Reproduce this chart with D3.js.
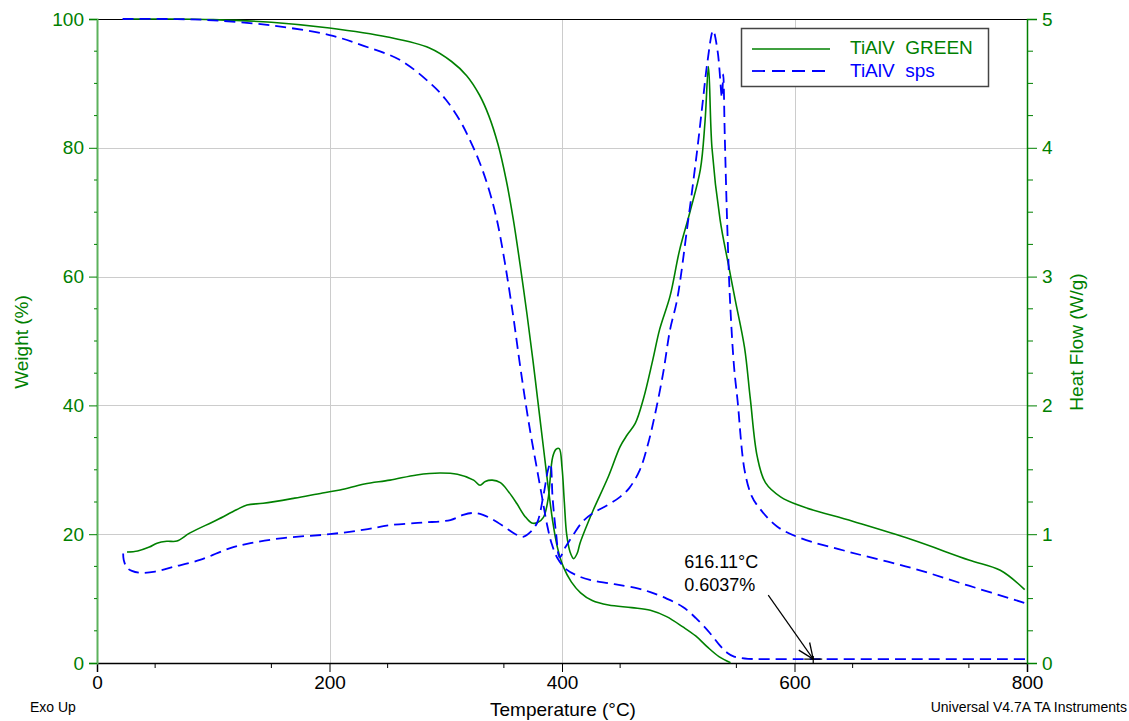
<!DOCTYPE html>
<html>
<head>
<meta charset="utf-8">
<script src="https://cdn.jsdelivr.net/npm/d3@7"></script>
<style>
  body { margin: 0; background: #fff; }
  text { font-family: "Liberation Sans", Arial, sans-serif; }
</style>
</head>
<body>
<svg id="chart" width="1129" height="721"></svg>
<script>
// weight (%) vs temperature (°C)
let weightGreen = [[24,100],[60,100],[100,99.9],[150,99.5],[200,98.6],[250,97.2],[286,95.5],[305,93.4],[318,91.2],[329,88.2],[337,85],[345,80.5],[352,75],[358,69],[364,61.8],[370,54],[375,47],[379,41],[384,33.5],[388,27.5],[392,22],[396,18],[401,15],[408,12.6],[416,10.9],[426,9.7],[440,9.0],[460,8.6],[476,8.2],[490,7.2],[504,5.6],[515,4.2],[525,2.5],[535,1.0],[545,0.05]]
let weightSps = [[22,100],[60,100],[100,99.8],[150,99],[200,97.5],[230,95.8],[261,93.6],[288,89.8],[300,87.5],[312,84.3],[320,81.5],[329,77.8],[337,73.6],[344,68.8],[351,62],[358,53.9],[363,47.4],[368,41.2],[373,35.6],[378,30.6],[383,25.6],[387,21.6],[391,18.6],[396,16.3],[404,14.5],[414,13.5],[424,12.9],[440,12.4],[450,12.1],[465,11.6],[476,11],[490,10],[504,8.7],[515,7],[527,4.7],[535,2.9],[542,1.6],[548,1.0],[553,0.8],[560,0.65],[600,0.61],[700,0.6],[800,0.6]]

// heat flow (W/g) vs temperature (°C)
let heatGreen = [[25.8,0.862],[35,0.87],[45,0.9],[51.6,0.93],[60,0.945],[68.8,0.947],[80,1.01],[103,1.11],[120,1.19],[129,1.227],[143,1.24],[170,1.28],[194,1.32],[209,1.343],[230,1.39],[252,1.42],[275,1.46],[295,1.475],[310,1.465],[324,1.42],[329.5,1.38],[334,1.41],[340,1.42],[347,1.40],[354,1.33],[361,1.24],[368,1.14],[374,1.087],[379,1.09],[384,1.13],[388,1.27],[392,1.6],[395,1.66],[397.6,1.665],[400,1.52],[402,1.25],[404,1.0],[407,0.86],[410,0.81],[413,0.85],[415.5,0.93],[421,1.06],[427,1.19],[440,1.45],[450,1.68],[456,1.77],[463,1.86],[470,2.05],[478,2.35],[484,2.59],[493,2.85],[501,3.2],[510,3.5],[519,3.83],[523,4.2],[526,4.63],[529,4.0],[536,3.44],[543,3.1],[549,2.82],[557,2.45],[562,2.05],[568,1.6],[575,1.4],[588,1.29],[605,1.22],[650,1.1],[700,0.96],[750,0.8],[777,0.72],[798,0.57]]
let heatSps = [[22.5,0.85],[23,0.8],[25.8,0.74],[30,0.715],[37,0.70],[50,0.71],[65,0.745],[88.6,0.8],[114,0.89],[132,0.93],[160,0.97],[200,1.0],[230,1.035],[252,1.07],[280,1.09],[304,1.11],[315,1.15],[324,1.165],[332,1.15],[338,1.126],[350,1.06],[360,1.0],[366.5,0.98],[372,1.01],[378.5,1.087],[384,1.3],[388,1.5],[390,1.55],[392,1.27],[395,1.0],[398,0.82],[403,0.9],[410,1.0],[418,1.1],[427,1.165],[440,1.23],[450,1.29],[458,1.36],[467,1.5],[474,1.7],[480,1.93],[487,2.25],[493,2.59],[499,2.82],[508,3.4],[516,3.96],[521,4.35],[525,4.66],[530,4.91],[534,4.74],[537.6,4.39],[538.7,4.57],[540,4.1],[542,3.44],[544.5,2.82],[548,2.3],[551,2.04],[557,1.5],[563,1.3],[570,1.2],[585,1.06],[605,0.97],[648,0.86],[700,0.74],[750,0.6],[798,0.466]]

let xTicks = [0, 200, 400, 600, 800]
let weightTicks = [0, 20, 40, 60, 80, 100]
let heatTicks = [0, 1, 2, 3, 4, 5]
let seriesNames = ["TiAlV  GREEN", "TiAlV  sps"]
let marker = { temp: 616.11, weight: 0.6037 }

let svg = d3.select("#chart")
let margin = { top: 19, right: 102, bottom: 58, left: 97 }
let width = 1129, height = 721
let green = "#008000", blue = "#0000ff"

let x = d3.scaleLinear().domain([0, 800]).range([margin.left, width - margin.right])
let yW = d3.scaleLinear().domain([0, 100]).range([height - margin.bottom, margin.top])
let yH = d3.scaleLinear().domain([0, 5]).range([height - margin.bottom, margin.top])

// grid
let grid = svg.append("g").attr("stroke", "#cccccc").attr("stroke-width", 1)
grid.selectAll(".gx").data([200, 400, 600]).join("line")
  .attr("x1", d => Math.round(x(d)) + 0.5).attr("x2", d => Math.round(x(d)) + 0.5)
  .attr("y1", yW(0)).attr("y2", yW(100))
grid.selectAll(".gy").data([20, 40, 60, 80]).join("line")
  .attr("x1", x(0)).attr("x2", x(800))
  .attr("y1", d => Math.round(yW(d)) + 0.5).attr("y2", d => Math.round(yW(d)) + 0.5)

// top border
svg.append("line").attr("x1", x(0)).attr("x2", x(800))
  .attr("y1", yW(100) + 0.5).attr("y2", yW(100) + 0.5)
  .attr("stroke", "#000").attr("stroke-width", 1.2)

// bottom axis
let xAxis = svg.append("g")
  .attr("transform", `translate(0,${yW(0)})`)
  .call(d3.axisBottom(x).tickValues(xTicks).tickSize(9).tickPadding(4).tickFormat(d3.format("d")))
xAxis.select(".domain").attr("stroke", "#000").attr("stroke-width", 1.5)
xAxis.selectAll("text").style("font-size", "19px").attr("fill", "#000")
xAxis.selectAll(".minor").data(d3.range(50, 800, 100)).join("line")
  .attr("x1", d => x(d)).attr("x2", d => x(d)).attr("y1", 0).attr("y2", 5)
  .attr("stroke", "#000")

// left axis
let yAxisL = svg.append("g")
  .attr("transform", `translate(${x(0)},0)`)
  .call(d3.axisLeft(yW).tickValues(weightTicks).tickSize(8).tickPadding(5).tickFormat(d3.format("d")))
yAxisL.select(".domain").attr("stroke", "#5cb25c").attr("stroke-width", 2)
yAxisL.selectAll(".tick line").attr("stroke", green)
yAxisL.selectAll("text").style("font-size", "19px").attr("fill", green)
yAxisL.selectAll(".minor").data(d3.range(5, 100, 5).filter(d => d % 20 != 0)).join("line")
  .attr("x1", -3).attr("x2", 0).attr("y1", d => yW(d)).attr("y2", d => yW(d))
  .attr("stroke", green)

// right axis
let yAxisR = svg.append("g")
  .attr("transform", `translate(${x(800)},0)`)
  .call(d3.axisRight(yH).tickValues(heatTicks).tickSize(10).tickPadding(5).tickFormat(d3.format("d")))
yAxisR.select(".domain").attr("stroke", green).attr("stroke-width", 1.5)
yAxisR.selectAll(".tick line").attr("stroke", green)
yAxisR.selectAll("text").style("font-size", "19px").attr("fill", green)
yAxisR.selectAll(".minor").data(d3.range(0.25, 5, 0.25).filter(d => d % 1 != 0)).join("line")
  .attr("x1", 0).attr("x2", 6).attr("y1", d => yH(d)).attr("y2", d => yH(d))
  .attr("stroke", green)

// curves
let lineW = d3.line().x(d => x(d[0])).y(d => yW(d[1])).curve(d3.curveCatmullRom.alpha(0.5))
let lineH = d3.line().x(d => x(d[0])).y(d => yH(d[1])).curve(d3.curveCatmullRom.alpha(0.5))

svg.append("path").datum(weightGreen).attr("d", lineW)
  .attr("fill", "none").attr("stroke", green).attr("stroke-width", 1.6)
svg.append("path").datum(heatGreen).attr("d", lineH)
  .attr("fill", "none").attr("stroke", green).attr("stroke-width", 1.6)
svg.append("path").datum(weightSps).attr("d", lineW)
  .attr("fill", "none").attr("stroke", blue).attr("stroke-width", 1.8).attr("stroke-dasharray", "11,6")
svg.append("path").datum(heatSps).attr("d", lineH)
  .attr("fill", "none").attr("stroke", blue).attr("stroke-width", 1.8).attr("stroke-dasharray", "11,6")

// annotation
let mx = x(marker.temp), my = yW(marker.weight)
svg.append("line").attr("x1", mx - 9).attr("x2", mx + 9).attr("y1", my).attr("y2", my)
  .attr("stroke", "#000").attr("stroke-width", 1.2)
svg.append("line").attr("x1", mx).attr("x2", mx).attr("y1", my - 3).attr("y2", my + 4)
  .attr("stroke", "#000").attr("stroke-width", 1.2)
let ax0 = mx - 45, ay0 = my - 64
svg.append("line").attr("x1", ax0).attr("y1", ay0).attr("x2", mx).attr("y2", my)
  .attr("stroke", "#000").attr("stroke-width", 1.2)
let ang = Math.atan2(my - ay0, mx - ax0)
;[-0.4, 0.4].forEach(a => {
  svg.append("line").attr("x1", mx).attr("y1", my)
    .attr("x2", mx - 17 * Math.cos(ang + a)).attr("y2", my - 17 * Math.sin(ang + a))
    .attr("stroke", "#000").attr("stroke-width", 1.3)
})
svg.append("text").attr("x", mx - 129).attr("y", my - 91)
  .style("font-size", "18px").attr("fill", "#000").text(marker.temp.toFixed(2) + "°C")
svg.append("text").attr("x", mx - 129).attr("y", my - 68)
  .style("font-size", "18px").attr("fill", "#000").text(marker.weight.toFixed(4) + "%")

// legend
let legend = svg.append("g")
legend.append("rect").attr("x", 741.5).attr("y", 28.5).attr("width", 247).attr("height", 58)
  .attr("fill", "#fff").attr("stroke", "#444").attr("stroke-width", 1.5)
legend.append("line").attr("x1", 752).attr("x2", 830).attr("y1", 49).attr("y2", 49)
  .attr("stroke", green).attr("stroke-width", 1.6)
legend.append("line").attr("x1", 752).attr("x2", 830).attr("y1", 71).attr("y2", 71)
  .attr("stroke", blue).attr("stroke-width", 1.8).attr("stroke-dasharray", "13,7")
legend.append("text").attr("x", 850).attr("y", 54).style("white-space", "pre")
  .style("font-size", "19px").attr("fill", green).text(seriesNames[0])
legend.append("text").attr("x", 850).attr("y", 77).style("white-space", "pre")
  .style("font-size", "19px").attr("fill", blue).text(seriesNames[1])

// titles
svg.append("text").attr("transform", `translate(28,342) rotate(-90)`)
  .attr("text-anchor", "middle").style("font-size", "19px").attr("fill", green).text("Weight (%)")
svg.append("text").attr("transform", `translate(1083,342) rotate(-90)`)
  .attr("text-anchor", "middle").style("font-size", "19px").attr("fill", green).text("Heat Flow (W/g)")
svg.append("text").attr("x", 563).attr("y", 716)
  .attr("text-anchor", "middle").style("font-size", "19px").attr("fill", "#000").text("Temperature (°C)")
svg.append("text").attr("x", 30).attr("y", 712)
  .style("font-size", "14px").attr("fill", "#000").text("Exo Up")
svg.append("text").attr("x", 1127).attr("y", 712).attr("text-anchor", "end")
  .style("font-size", "14px").attr("fill", "#000").text("Universal V4.7A TA Instruments")
</script>
</body>
</html>
